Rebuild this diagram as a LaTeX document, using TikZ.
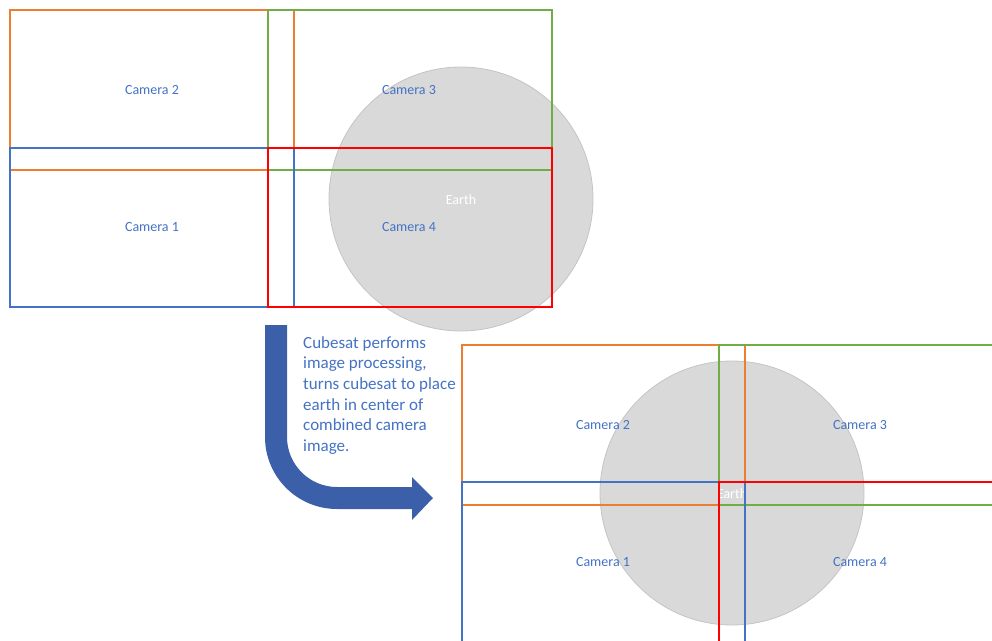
\documentclass[tikz,border=0pt]{standalone}
\usepackage{fontspec}
\setmainfont{Carlito}
\definecolor{camorange}{HTML}{ED7D31}
\definecolor{camgreen}{HTML}{70AD47}
\definecolor{camblue}{HTML}{4472C4}
\definecolor{camred}{HTML}{FF0000}
\definecolor{earthgray}{HTML}{D9D9D9}
\definecolor{earthedge}{HTML}{C4C4C4}
\definecolor{arrowblue}{HTML}{3C5FAA}
\tikzset{
	cam/.style={line width=1.4pt},
	camlabel/.style={text=camblue, font=\fontsize{14}{17}\selectfont},
	earth/.style={fill=earthgray, draw=earthedge, line width=0.8pt},
	earthlabel/.style={text=white, font=\fontsize{14}{17}\selectfont},
}
\begin{document}
\begin{tikzpicture}[x=1pt,y=-1pt]
	\clip (0,0) rectangle (992,640);

	% before: earth off to one side
	\draw[earth] (461,199) circle (132);
	\node[earthlabel] (earthA) at (461,200) {Earth};
	\draw[cam, color=camorange] (10,10) rectangle (294,170);
	\draw[cam, color=camgreen] (268,10) rectangle (552,170);
	\draw[cam, color=camblue] (10,148) rectangle (294,307);
	\draw[cam, color=camred] (268,148) rectangle (552,307);
	\node[camlabel] (camA2) at (152,90) {Camera 2};
	\node[camlabel] (camA3) at (409,90) {Camera 3};
	\node[camlabel] (camA1) at (152,227) {Camera 1};
	\node[camlabel] (camA4) at (409,227) {Camera 4};

	% bent arrow
	\fill[arrowblue] (265,325) -- (265,437) arc[start angle=180, end angle=90, radius=72]
		-- (412,509) -- (412,520) -- (433,498) -- (412,477) -- (412,487) -- (337,487)
		arc[start angle=90, end angle=180, radius=50] -- (287,325) -- cycle;
	\node[anchor=north west, inner sep=0pt, align=left, text=camblue,
		font=\fontsize{17}{20.7}\selectfont] (caption) at (303,336)
		{Cubesat performs\\image processing,\\turns cubesat to place\\earth in center of\\combined camera\\image.};

	% after: earth in the middle
	\draw[earth] (732,493) circle (132);
	\begin{scope}
		\clip (719,480) rectangle (745,506);
		\node[earthlabel] (earthB) at (732,494) {Earth};
	\end{scope}
	\draw[cam, color=camorange] (462,345) rectangle (745,505);
	\draw[cam, color=camgreen] (719,345) rectangle (1003,505);
	\draw[cam, color=camblue] (462,482) rectangle (745,642);
	\draw[cam, color=camred] (719,482) rectangle (1003,642);
	\node[camlabel] (camB2) at (603,425) {Camera 2};
	\node[camlabel] (camB3) at (860,425) {Camera 3};
	\node[camlabel] (camB1) at (603,562) {Camera 1};
	\node[camlabel] (camB4) at (860,562) {Camera 4};
\end{tikzpicture}
\end{document}
